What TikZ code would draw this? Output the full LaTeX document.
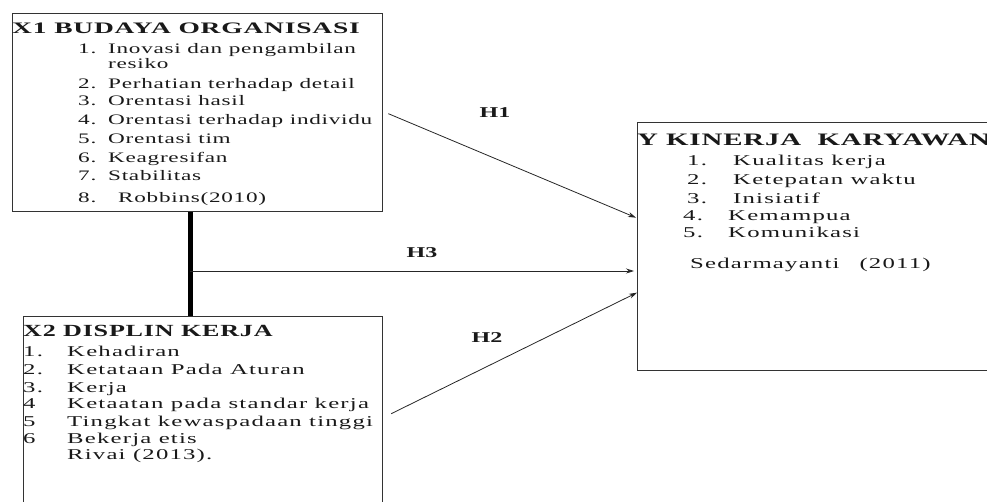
\documentclass[tikz,border=0pt]{standalone}
\usepackage{fontspec}
\setmainfont{Liberation Serif}
\newfontfamily\ftA[FakeStretch=1.6,LetterSpace=5]{Liberation Serif}
\newfontfamily\ftB[FakeStretch=1.65,LetterSpace=8]{Liberation Serif}
\newfontfamily\ftT[FakeStretch=1.65,LetterSpace=5]{Liberation Serif}
\newfontfamily\ftH[FakeStretch=1.6]{Liberation Serif}
\usetikzlibrary{arrows.meta}
\begin{document}
\begin{tikzpicture}[x=1pt,y=-1pt,
  box/.style={draw=black!80, line width=1.3pt, inner sep=0pt, anchor=north west},
  ln/.style={anchor=base west, inner sep=0pt, text=black!90},
  titleA/.style={ln, font=\ftT\bfseries\fontsize{16}{18}\selectfont},
  titleB/.style={ln, font=\ftT\bfseries\fontsize{17}{19}\selectfont},
  titleY/.style={ln, font=\ftT\bfseries\fontsize{17.5}{20}\selectfont},
  itemA/.style={ln, font=\ftA\fontsize{14.5}{16}\selectfont},
  itemB/.style={ln, font=\ftB\fontsize{15}{17}\selectfont},
  hlbl/.style={inner sep=0pt, font=\ftH\bfseries\fontsize{15}{17}\selectfont, text=black!90},
  conn/.style={-{Stealth[length=8pt,width=5pt]}, line width=0.8pt, draw=black!85},
  bar/.style={line width=5pt, draw=black}]
\useasboundingbox (0,0) rectangle (987,501);
\clip (0,0) rectangle (987,501);
% boxes
\node[box, minimum width=370pt, minimum height=198pt] (x1) at (12,13) {};
\node[box, minimum width=359pt, minimum height=230pt] (x2) at (23,316) {};
\node[box, minimum width=380pt, minimum height=248pt] (y) at (637,122) {};
% X1 text
\node[titleA] (x1t) at (12,33) {\scalebox{1.04}[1]{X1 BUDAYA ORGANISASI}};
\node[itemA] (x1n1) at (78,53) {1.};
\node[itemA] (x1i1) at (108,53) {Inovasi dan pengambilan};
\node[itemA] (x1i1b) at (108,68) {resiko};
\node[itemA] (x1n2) at (78,88) {2.};
\node[itemA] (x1i2) at (108,88) {Perhatian terhadap detail};
\node[itemA] (x1n3) at (78,105) {3.};
\node[itemA] (x1i3) at (108,105) {Orentasi hasil};
\node[itemA] (x1n4) at (78,124) {4.};
\node[itemA] (x1i4) at (108,124) {Orentasi terhadap individu};
\node[itemA] (x1n5) at (78,143) {5.};
\node[itemA] (x1i5) at (108,143) {Orentasi tim};
\node[itemA] (x1n6) at (78,162) {6.};
\node[itemA] (x1i6) at (108,162) {Keagresifan};
\node[itemA] (x1n7) at (78,180) {7.};
\node[itemA] (x1i7) at (108,180) {Stabilitas};
\node[itemA] (x1n8) at (78,202) {8.};
\node[itemA] (x1i8) at (118,202) {Robbins(2010)};
% X2 text
\node[titleB] (x2t) at (23,336) {\scalebox{0.93}[1]{X2 DISPLIN KERJA}};
\node[itemB] (x2n1) at (23,356) {1.};
\node[itemB] (x2i1) at (67,356) {Kehadiran};
\node[itemB] (x2n2) at (23,374) {2.};
\node[itemB] (x2i2) at (67,374) {Ketataan Pada Aturan};
\node[itemB] (x2n3) at (23,392) {3.};
\node[itemB] (x2i3) at (67,392) {Kerja};
\node[itemB] (x2n4) at (23,408) {4};
\node[itemB] (x2i4) at (67,408) {Ketaatan pada standar kerja};
\node[itemB] (x2n5) at (23,426) {5};
\node[itemB] (x2i5) at (67,426) {Tingkat kewaspadaan tinggi};
\node[itemB] (x2n6) at (23,443) {6};
\node[itemB] (x2i6) at (67,443) {Bekerja etis};
\node[itemB] (x2r) at (67,459) {Rivai (2013).};
% Y text
\node[titleY] (yt) at (637,145) {Y KINERJA\ \ KARYAWAN};
\node[itemB] (yn1) at (687,165) {1.};
\node[itemB] (yi1) at (733,165) {Kualitas kerja};
\node[itemB] (yn2) at (687,184) {2.};
\node[itemB] (yi2) at (733,184) {Ketepatan waktu};
\node[itemB] (yn3) at (687,203) {3.};
\node[itemB] (yi3) at (733,203) {Inisiatif};
\node[itemB] (yn4) at (683,220) {4.};
\node[itemB] (yi4) at (728,220) {Kemampua};
\node[itemB] (yn5) at (683,237) {5.};
\node[itemB] (yi5) at (728,237) {Komunikasi};
\node[itemB] (yr) at (690,268) {Sedarmayanti\hspace{20pt}(2011)};
% connectors
\coordinate (bx) at (190,0);
\draw[bar] (x1.south -| bx) -- (x2.north -| bx);
\coordinate (h3s) at (190,271);
\draw[conn] ([xshift=5pt,yshift=-1pt]x1.east) -- ([xshift=-1pt,yshift=29pt]y.west);
\draw[conn] (h3s) -- ([xshift=-3pt]h3s -| y.west);
\draw[conn] ([xshift=8pt,yshift=18pt]x2.east) -- ([yshift=-46pt]y.west);
% labels
\node[hlbl] (h1) at (495,113) {H1};
\node[hlbl] (h3) at (422,253) {H3};
\node[hlbl] (h2) at (487,338) {H2};
\end{tikzpicture}
\end{document}
